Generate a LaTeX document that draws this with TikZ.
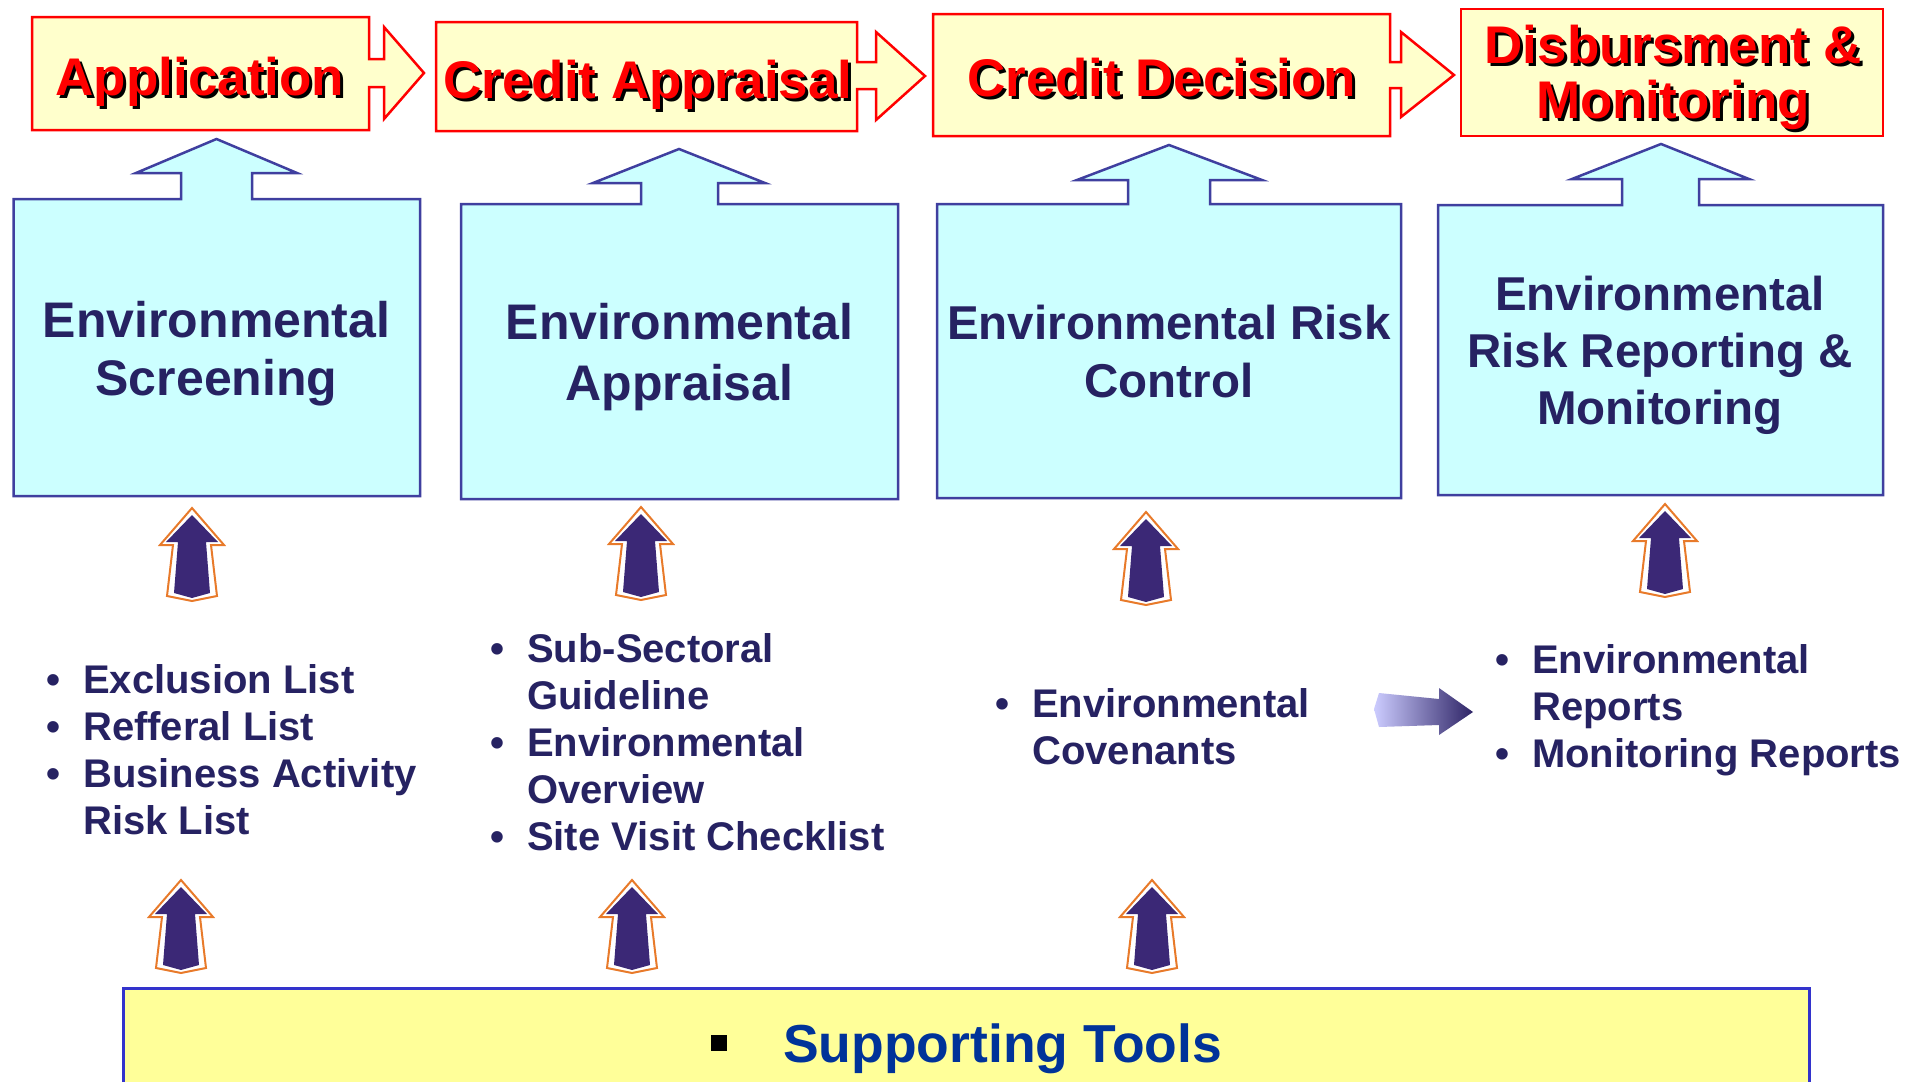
\documentclass[tikz,border=0pt]{standalone}
\usepackage{fontspec}
\setmainfont{Liberation Sans}
\usetikzlibrary{shapes.geometric}
\definecolor{tboxfill}{HTML}{FFFFCC}
\definecolor{bboxfill}{HTML}{CCFFFF}
\definecolor{bboxline}{HTML}{3F3F9F}
\definecolor{navytext}{HTML}{262262}
\definecolor{arrpurple}{HTML}{3B2876}
\definecolor{arrorange}{HTML}{E87A2A}
\definecolor{stfill}{HTML}{FFFF99}
\definecolor{stline}{HTML}{3333CC}
\definecolor{sttext}{HTML}{003399}
\definecolor{gradL}{HTML}{CCCCFF}
\definecolor{gradR}{HTML}{2E2466}
\newcommand{\shtxt}[1]{\makebox[0pt][l]{\hspace{3pt}\raisebox{-3pt}{\textcolor{black}{#1}}}\textcolor{red}{#1}}
\newcommand{\lbul}{\makebox[37pt][l]{\makebox[14pt][c]{•}}}
\newcommand{\lnob}{\hspace*{37pt}}
\tikzset{
  topbox/.style={fill=tboxfill, draw=red, line width=2.5pt, line join=miter},
  bluebox/.style={fill=bboxfill, draw=bboxline, line width=2.5pt, line join=miter},
  toptext/.style={inner sep=0pt, anchor=base, font=\fontsize{53}{55}\selectfont\bfseries},
  boxtext/.style={inner sep=0pt, anchor=base, text=navytext},
  listtext/.style={inner sep=0pt, anchor=base west, text=navytext, font=\fontsize{40}{47}\selectfont\bfseries},
  uparr/.pic={
    \filldraw[draw=arrorange, fill=white, line width=2pt, line join=miter]
      (0,0)--(32,37)--(19,37)--(25,88)--(0,93)--(-25,88)--(-19,37)--(-32,37)--cycle;
    \fill[arrpurple] (0,7)--(26,34)--(14,34)--(18,85)--(0,90)--(-18,85)--(-14,34)--(-26,34)--cycle;
  }
}
\begin{document}
\begin{tikzpicture}[x=1pt, y=-1pt]
\useasboundingbox (0,0) rectangle (1917,1082);

% ---- top process boxes ----
\draw[topbox] (32,17)--(369,17)--(369,59)--(384,59)--(384,27)--(424,73)--(384,119)--(384,87)--(369,87)--(369,130)--(32,130)--cycle;
\draw[topbox] (436,22)--(857,22)--(857,62)--(876,62)--(876,32)--(925,76)--(876,120)--(876,89)--(857,89)--(857,131)--(436,131)--cycle;
\draw[topbox] (933,14)--(1390,14)--(1390,62)--(1401,62)--(1401,32)--(1454,75)--(1401,117)--(1401,88)--(1390,88)--(1390,136)--(933,136)--cycle;
\draw[topbox] (1461,9) rectangle (1883,136);

\node[toptext] (app) at (200,95) {\shtxt{Application}};
\node[toptext] (cap) at (648,98) {\shtxt{Credit Appraisal}};
\node[toptext] (cdec) at (1162,96) {\shtxt{Credit Decision}};
\node[toptext] (disb) at (1673,63) {\begin{tabular}[t]{@{}c@{}}\shtxt{Disbursment \&}\\\shtxt{Monitoring}\end{tabular}};

% ---- blue boxes with up arrows ----
\draw[bluebox] (13.5,199)--(181,199)--(181,173)--(136,173)--(216.5,139)--(297,173)--(252,173)--(252,199)--(420,199)--(420,496)--(13.5,496)--cycle;
\draw[bluebox] (461,204)--(641,204)--(641,183)--(593,183)--(679,149)--(765,183)--(718,183)--(718,204)--(898,204)--(898,499)--(461,499)--cycle;
\draw[bluebox] (937,204)--(1128,204)--(1128,180)--(1077,180)--(1169,145)--(1262,180)--(1210,180)--(1210,204)--(1401,204)--(1401,498)--(937,498)--cycle;
\draw[bluebox] (1438,205)--(1622,205)--(1622,179)--(1572,179)--(1661,144)--(1749,179)--(1699,179)--(1699,205)--(1883,205)--(1883,495)--(1438,495)--cycle;

\node[boxtext, font=\fontsize{50}{58}\selectfont\bfseries] (escr) at (216.5,337) {\begin{tabular}[t]{@{}c@{}}Environmental\\Screening\end{tabular}};
\node[boxtext, font=\fontsize{50}{61}\selectfont\bfseries] (eapp) at (679.5,339) {\begin{tabular}[t]{@{}c@{}}Environmental\\Appraisal\end{tabular}};
\node[boxtext, font=\fontsize{47.5}{58}\selectfont\bfseries] (erc) at (1169,339) {\begin{tabular}[t]{@{}c@{}}Environmental Risk\\Control\end{tabular}};
\node[boxtext, font=\fontsize{47.5}{57}\selectfont\bfseries] (errm) at (1660,310) {\begin{tabular}[t]{@{}c@{}}Environmental\\Risk Reporting \&\\Monitoring\end{tabular}};

% ---- small up arrows ----
\pic (a1) at (192,508) {uparr};
\pic (a2) at (641,507) {uparr};
\pic (a3) at (1146,512) {uparr};
\pic (a4) at (1665,504) {uparr};
\pic (b1) at (181,880) {uparr};
\pic (b2) at (632,880) {uparr};
\pic (b3) at (1152,880) {uparr};

% ---- lists ----
\node[listtext] (l1) at (46,693) {\begin{tabular}[t]{@{}l@{}}\lbul Exclusion List\\\lbul Refferal List\\\lbul Business Activity\\\lnob Risk List\end{tabular}};
\node[listtext] (l2) at (490,662) {\begin{tabular}[t]{@{}l@{}}\lbul Sub-Sectoral\\\lnob Guideline\\\lbul Environmental\\\lnob Overview\\\lbul Site Visit Checklist\end{tabular}};
\node[listtext] (l3) at (995,717) {\begin{tabular}[t]{@{}l@{}}\lbul Environmental\\\lnob Covenants\end{tabular}};
\node[listtext] (l4) at (1495,673) {\begin{tabular}[t]{@{}l@{}}\lbul Environmental\\\lnob Reports\\\lbul Monitoring Reports\end{tabular}};

% ---- gradient arrow ----
\shade[left color=gradL, right color=gradR] (1374,709)--(1379,693)--(1439,699)--(1439,688)--(1473,712)--(1439,735)--(1439,725)--(1379,727)--cycle;

% ---- supporting tools ----
\fill[stfill] (123,988) rectangle (1809,1082);
\draw[stline, line width=3pt] (123,1082)--(123,988)--(1809,988)--(1809,1082);
\fill[black] (711,1035) rectangle (727,1051);
\node[inner sep=0pt, anchor=base west, text=sttext, font=\fontsize{53.5}{60}\selectfont\bfseries] (st) at (783,1062) {Supporting Tools};
\end{tikzpicture}
\end{document}
